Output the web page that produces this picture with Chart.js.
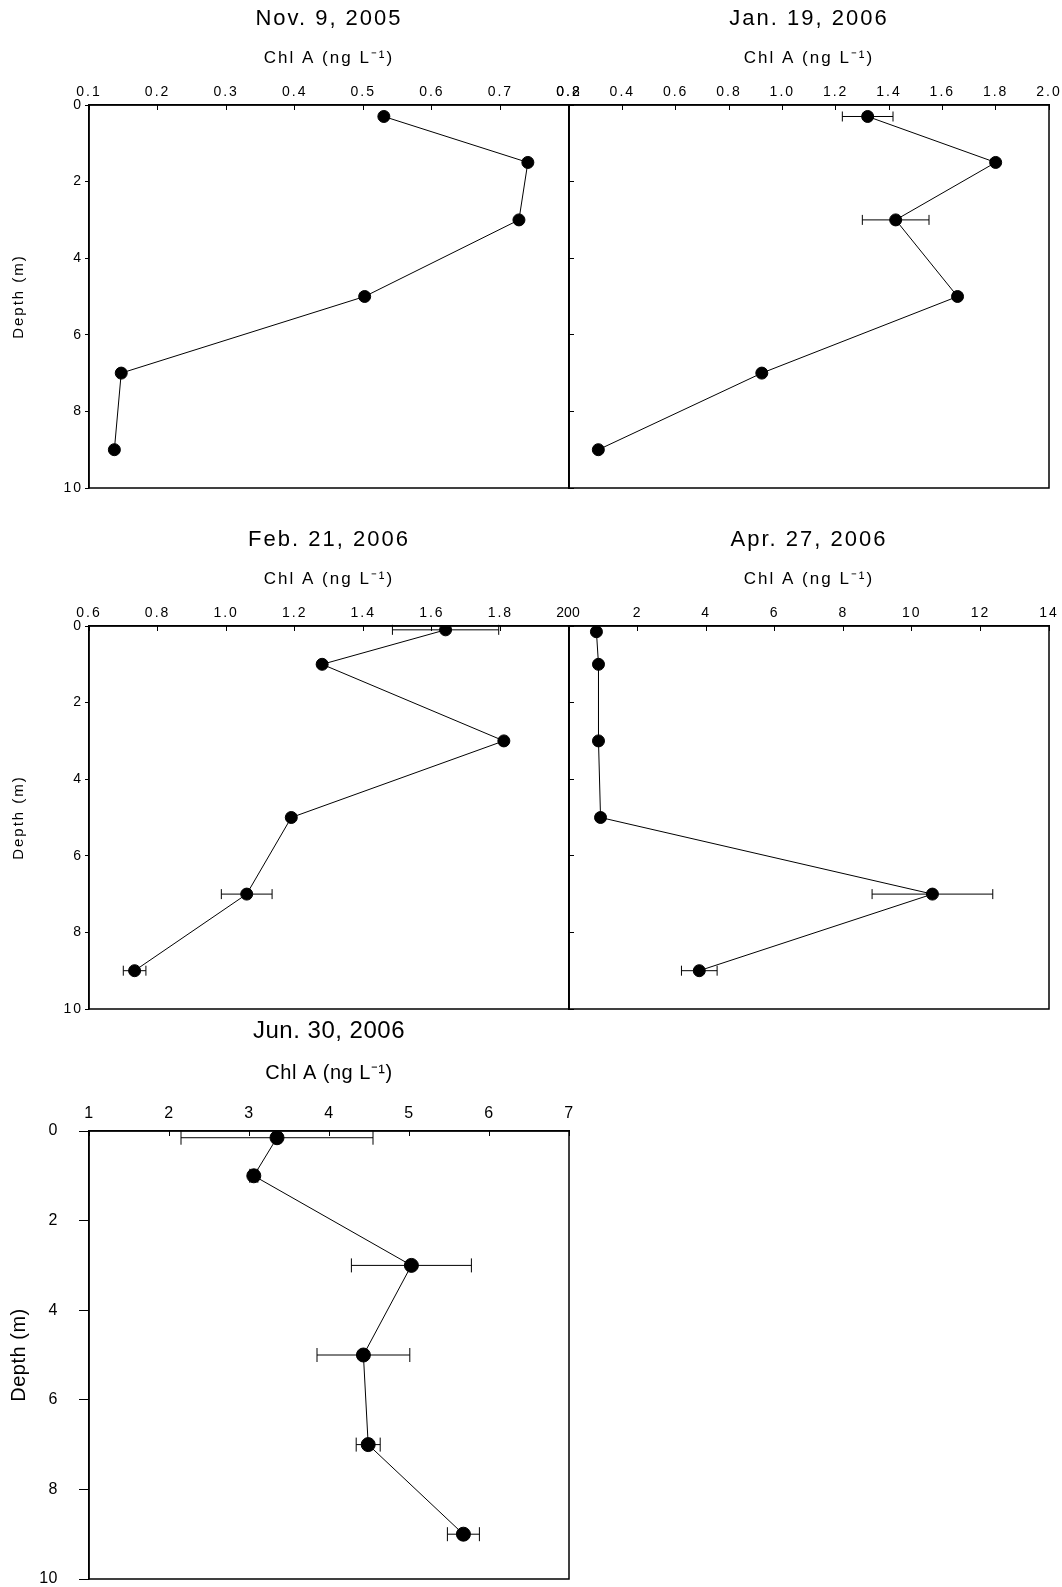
<!DOCTYPE html>
<html>
<head>
<meta charset="utf-8">
<title>Chl A - perfis de profundidade</title>
<script src="https://cdn.jsdelivr.net/npm/chart.js@4.4.1/dist/chart.umd.min.js"></script>
<style>
  html, body { margin: 0; padding: 0; background: #fff; }
  body { width: 1062px; height: 1587px; position: relative; overflow: hidden; }
  canvas { position: absolute; }
</style>
</head>
<body>
<canvas id="cNov" width="600" height="500" style="left:0;top:0"></canvas>
<canvas id="cJan" width="522" height="500" style="left:540px;top:0"></canvas>
<canvas id="cFeb" width="600" height="500" style="left:0;top:521px"></canvas>
<canvas id="cAbr" width="522" height="500" style="left:540px;top:521px"></canvas>
<canvas id="cJun" width="600" height="587" style="left:0;top:1000px"></canvas>
<script>
// Profundidades (m) e Chl A (ng/L) de cada campanha
const profNov = [0.3, 1.5, 3, 5, 7, 9];
const chlNov = [0.53, 0.74, 0.727, 0.502, 0.147, 0.137];
const errNov = [0, 0, 0, 0, 0, 0];

const profJan = [0.3, 1.5, 3, 5, 7, 9];
const chlJan = [1.32, 1.80, 1.425, 1.657, 0.923, 0.31];
const errJan = [0.095, 0, 0.125, 0, 0, 0];

const profFeb = [0.1, 1, 3, 5, 7, 9];
const chlFeb = [1.64, 1.28, 1.81, 1.19, 1.06, 0.733];
const errFeb = [0.155, 0, 0, 0, 0.074, 0.033];

const profAbr = [0.15, 1, 3, 5, 7, 9];
const chlAbr = [0.8, 0.86, 0.86, 0.92, 10.6, 3.8];
const errAbr = [0, 0, 0, 0, 1.76, 0.52];

const profJun = [0.15, 1, 3, 5, 7, 9];
const chlJun = [3.35, 3.06, 5.03, 4.43, 4.49, 5.68];
const errJun = [1.2, 0.05, 0.75, 0.58, 0.15, 0.2];

// Marcas dos eixos
const ticksNov = [0.1, 0.2, 0.3, 0.4, 0.5, 0.6, 0.7, 0.8];
const ticksJan = [0.2, 0.4, 0.6, 0.8, 1.0, 1.2, 1.4, 1.6, 1.8, 2.0];
const ticksFeb = [0.6, 0.8, 1.0, 1.2, 1.4, 1.6, 1.8, 2.0];
const ticksAbr = [0, 2, 4, 6, 8, 10, 12, 14];
const ticksJun = [1, 2, 3, 4, 5, 6, 7];
const ticksProf = [0, 2, 4, 6, 8, 10];

const FONTE = '"Liberation Sans", Arial, Helvetica, sans-serif';

// Estilo dos quatro painéis de cima e do painel de baixo
const estiloPeq = {
    tituloFs: 22, tituloPadTop: 5.8, eixoFs: 17, eixoPadTop: 15.6, alturaX: 72.8,
    tickFs: 14, tickPadX: 9.6, yFs: 14, tickY: 4, tickPadY: 2,
    profFs: 15, profPad: 10, padBaixo: 12, ls: '2px', raio: 6, cap: 5
};
const estiloGrande = {
    tituloFs: 24, tituloPadTop: 16.6, eixoFs: 20, eixoPadTop: 15.6, alturaX: 85.6,
    tickFs: 16, tickPadX: 12.4, yFs: 16, tickY: 10, tickPadY: 21,
    profFs: 20, profPad: 7, padBaixo: 8, ls: '0.5px', raio: 7, cap: 7
};

// Espaçamento entre letras no canvas
const espacamento = {
    id: 'espacamento',
    beforeDraw(chart, args, opts) {
        chart.ctx.letterSpacing = opts.valor || '0px';
    }
};

// Barras de erro horizontais (desvio em Chl A)
const barrasErro = {
    id: 'barrasErro',
    beforeDatasetsDraw(chart, args, opts) {
        const { ctx, scales: { x, y } } = chart;
        chart.data.datasets.forEach(ds => {
            if (!ds.erros) return;
            ctx.save();
            ctx.strokeStyle = '#000';
            ctx.lineWidth = 1;
            ds.data.forEach((p, i) => {
                const e = ds.erros[i];
                if (!e) return;
                const x1 = x.getPixelForValue(p.x - e);
                const x2 = x.getPixelForValue(p.x + e);
                const py = y.getPixelForValue(p.y);
                ctx.beginPath();
                ctx.moveTo(x1, py); ctx.lineTo(x2, py);
                ctx.moveTo(x1, py - opts.cap); ctx.lineTo(x1, py + opts.cap);
                ctx.moveTo(x2, py - opts.cap); ctx.lineTo(x2, py + opts.cap);
                ctx.stroke();
            });
            ctx.restore();
        });
    }
};

// Caixa em volta da área do gráfico
const moldura = {
    id: 'moldura',
    afterDraw(chart, args, opts) {
        const { ctx, chartArea: a } = chart;
        ctx.save();
        ctx.strokeStyle = '#000';
        ctx.lineWidth = opts.largura || 1.5;
        ctx.strokeRect(a.left, a.top, a.right - a.left, a.bottom - a.top);
        ctx.restore();
    }
};

function criarPainel(canvasId, p) {
    const e = p.grande ? estiloGrande : estiloPeq;
    const esq = p.lado === 'esq';
    return new Chart(document.getElementById(canvasId), {
        type: 'scatter',
        data: {
            datasets: [{
                data: p.chl.map((v, i) => ({ x: v, y: p.prof[i] })),
                erros: p.err,
                showLine: true,
                borderColor: '#000',
                borderWidth: 1,
                pointBackgroundColor: '#000',
                pointBorderColor: '#000',
                pointRadius: e.raio,
                pointHoverRadius: e.raio
            }]
        },
        options: {
            responsive: false,
            animation: false,
            events: [],
            devicePixelRatio: 1,
            layout: { padding: { left: 0, top: 0, right: p.padDir, bottom: e.padBaixo } },
            plugins: {
                legend: { display: false },
                tooltip: { enabled: false },
                title: {
                    display: true,
                    text: p.titulo,
                    fullSize: false,
                    color: '#000',
                    font: { family: FONTE, size: e.tituloFs, weight: 'normal' },
                    padding: { top: e.tituloPadTop, bottom: 0 }
                },
                espacamento: { valor: e.ls },
                barrasErro: { cap: e.cap },
                moldura: { largura: 1.5 }
            },
            scales: {
                x: {
                    type: 'linear',
                    position: 'top',
                    min: p.ticksX[0],
                    max: p.ticksX[p.ticksX.length - 1],
                    afterBuildTicks: s => { s.ticks = p.ticksX.map(v => ({ value: v })); },
                    // altura fixa e sem folga lateral: a área do gráfico fica onde o layout manda
                    afterFit: s => { s.height = e.alturaX; s.paddingLeft = 0; s.paddingRight = 0; },
                    ticks: {
                        maxRotation: 0,
                        autoSkip: false,
                        padding: e.tickPadX,
                        color: '#000',
                        font: { family: FONTE, size: e.tickFs },
                        callback: v => v.toFixed(p.casas)
                    },
                    grid: { drawOnChartArea: false, drawTicks: true, tickLength: -5, color: '#000', lineWidth: 1 },
                    border: { color: '#000', width: 1.5 },
                    title: {
                        display: true,
                        text: 'Chl A (ng L⁻¹)',
                        color: '#000',
                        font: { family: FONTE, size: e.eixoFs },
                        padding: { top: e.eixoPadTop, bottom: 0 }
                    }
                },
                y: {
                    type: 'linear',
                    position: 'left',
                    reverse: true,
                    min: 0,
                    max: 10,
                    afterBuildTicks: s => { s.ticks = ticksProf.map(v => ({ value: v })); },
                    afterFit: s => { s.width = esq ? 89 : 29; s.paddingTop = 0; s.paddingBottom = 0; },
                    ticks: {
                        display: esq,
                        padding: e.tickPadY,
                        color: '#000',
                        font: { family: FONTE, size: e.yFs }
                    },
                    grid: { drawOnChartArea: false, drawTicks: true, tickLength: esq ? e.tickY : -5, color: '#000', lineWidth: 1 },
                    border: { color: '#000', width: 1.5 },
                    title: {
                        display: esq,
                        text: 'Depth (m)',
                        color: '#000',
                        font: { family: FONTE, size: e.profFs },
                        padding: { top: e.profPad, bottom: 0 }
                    }
                }
            }
        },
        plugins: [espacamento, barrasErro, moldura]
    });
}

document.addEventListener('DOMContentLoaded', () => {
    criarPainel('cNov', { titulo: 'Nov. 9, 2005', prof: profNov, chl: chlNov, err: errNov, ticksX: ticksNov, casas: 1, lado: 'esq', padDir: 31 });
    criarPainel('cJan', { titulo: 'Jan. 19, 2006', prof: profJan, chl: chlJan, err: errJan, ticksX: ticksJan, casas: 1, lado: 'dir', padDir: 13 });
    criarPainel('cFeb', { titulo: 'Feb. 21, 2006', prof: profFeb, chl: chlFeb, err: errFeb, ticksX: ticksFeb, casas: 1, lado: 'esq', padDir: 31 });
    criarPainel('cAbr', { titulo: 'Apr. 27, 2006', prof: profAbr, chl: chlAbr, err: errAbr, ticksX: ticksAbr, casas: 0, lado: 'dir', padDir: 13 });
    criarPainel('cJun', { titulo: 'Jun. 30, 2006', prof: profJun, chl: chlJun, err: errJun, ticksX: ticksJun, casas: 0, lado: 'esq', padDir: 31, grande: true });
});
</script>
</body>
</html>
